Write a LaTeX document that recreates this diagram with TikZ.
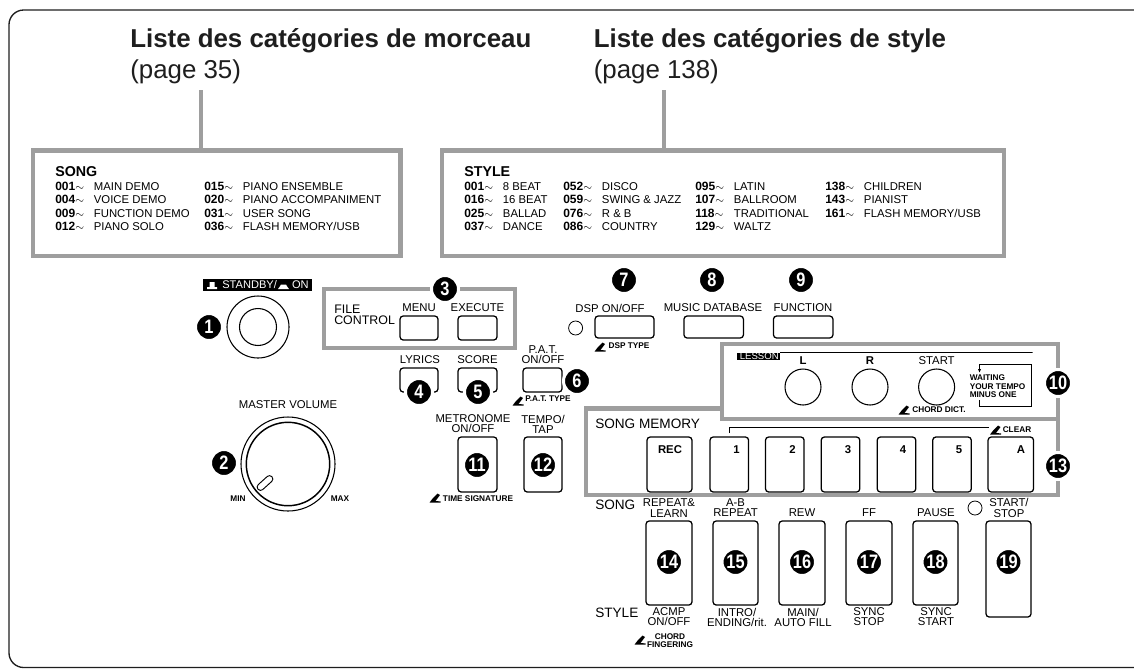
\documentclass[tikz,border=0pt]{standalone}
\usepackage{fontspec}
\setmainfont{Liberation Sans}
\newfontfamily\BadgeFace[FakeStretch=0.84]{Liberation Sans}
\usetikzlibrary{calc,arrows.meta}
\definecolor{frameGray}{RGB}{158,158,158}
\definecolor{inkBlack}{RGB}{30,30,30}
\newcommand{\TitleFont}{\fontsize{19.4}{22}\selectfont}
\newcommand{\KeyFont}{\fontsize{8.5}{7.6}\selectfont\lineskiplimit=-10pt\relax}
\newcommand{\TinyFont}{\fontsize{6.2}{6.2}\selectfont\bfseries\lineskiplimit=-10pt\relax}
\newcommand{\WaitFont}{\fontsize{6.2}{6.4}\selectfont\bfseries\lineskiplimit=-10pt\relax}
\newcommand{\FileFont}{\fontsize{9.3}{8.25}\selectfont\lineskiplimit=-10pt\relax}
\newcommand{\PanelFont}{\fontsize{10.2}{11}\selectfont}
\newcommand{\DigitFont}{\fontsize{8.5}{8.5}\selectfont\bfseries}
\newcommand{\ListRow}[2]{\makebox[29pt][l]{\fontsize{9}{10}\selectfont\bfseries #1{\fontsize{8}{8}\selectfont$\sim$}}#2}
\tikzset{
grayframe/.style 2 args={draw=frameGray,line width=3.15pt,fill=white,minimum width=#1*.75pt,minimum height=#2*.75pt,inner sep=0pt},
graylink/.style={draw=frameGray,line width=2.6pt},
keybtn/.style 2 args={draw=black,line width=.95pt,rounded corners=2.4pt,fill=white,minimum width=#1*.75pt,minimum height=#2*.75pt,inner sep=0pt},
roundkey/.style={circle,draw=black,line width=.8pt,fill=white,minimum size=#1*1.5pt,inner sep=0pt},
keytext/.style={inner sep=0pt,align=center,font=\KeyFont},
tinytext/.style={inner sep=0pt,align=center,font=\TinyFont},
paneltext/.style={inner sep=0pt,font=\PanelFont,anchor=west},
listcol/.style={inner sep=0pt,align=left,anchor=north west,font=\fontsize{8.5}{10.1}\selectfont},
listhead/.style={inner sep=0pt,anchor=west,font=\fontsize{10.7}{11}\selectfont\bfseries},
numbadge/.style={circle,fill=black,draw=white,line width=2.25pt,minimum size=20.25pt,inner sep=0pt,text=white,font=\BadgeFace\fontsize{14.6}{14.6}\selectfont\bfseries},
ledring/.style={circle,draw=black,line width=.6pt,minimum size=10.5pt,inner sep=0pt},
blacktag/.style={fill=black,text=white,inner sep=0pt,anchor=west},
rulemark/.style={draw=black,line width=.6pt},
penmark/.pic={\fill[black] (-5.5,4.6) -- (-2,0) -- (2.5,-4.5) -- (5,-3) -- (.5,3) -- (5.5,3.4) -- (5.5,4.6) -- cycle;}
}
\begin{document}
\begin{tikzpicture}[x=.75pt,y=-.75pt]
\useasboundingbox (0,0) rectangle (1134,669);
\draw[draw=inkBlack,line width=1pt,rounded corners=11pt] (1140,10) -- (9,10) -- (9,667.5) -- (1140,667.5);

\node[inner sep=0pt,anchor=base west,font=\TitleFont\bfseries,text=inkBlack] (songtitle) at (130,47.7) {Liste des catégories de morceau};
\node[inner sep=0pt,anchor=base west,font=\TitleFont,text=inkBlack] (songpage) at (130,78) {(page 35)};
\node[inner sep=0pt,anchor=base west,font=\TitleFont\bfseries,text=inkBlack] (styletitle) at (593.5,47.7) {Liste des catégories de style};
\node[inner sep=0pt,anchor=base west,font=\TitleFont,text=inkBlack] (stylepage) at (593.5,78) {(page 138)};

\node[grayframe={367.5}{105.5}] (songbox) at (216.7,203.2) {};
\node[grayframe={562}{105.5}] (stylebox) at (723,203.2) {};
\coordinate (songstem) at (201,90);
\coordinate (stylestem) at (664,90);
\draw[graylink] (songstem) -- (songstem |- songbox.north);
\draw[graylink] (stylestem) -- (stylestem |- stylebox.north);

\node[listhead] (songhead) at (55,171.7) {SONG};
\node[listcol] (songcola) at (55,181.5) {\ListRow{001}{MAIN DEMO}\\\ListRow{004}{VOICE DEMO}\\\ListRow{009}{FUNCTION DEMO}\\\ListRow{012}{PIANO SOLO}};
\node[listcol] (songcolb) at (204,181.5) {\ListRow{015}{PIANO ENSEMBLE}\\\ListRow{020}{PIANO ACCOMPANIMENT}\\\ListRow{031}{USER SONG}\\\ListRow{036}{FLASH MEMORY/USB}};
\node[listhead] (stylehead) at (464,171.7) {STYLE};
\node[listcol] (stylecola) at (464,181.5) {\ListRow{001}{8 BEAT}\\\ListRow{016}{16 BEAT}\\\ListRow{025}{BALLAD}\\\ListRow{037}{DANCE}};
\node[listcol] (stylecolb) at (563,181.5) {\ListRow{052}{DISCO}\\\ListRow{059}{SWING \& JAZZ}\\\ListRow{076}{R \& B}\\\ListRow{086}{COUNTRY}};
\node[listcol] (stylecolc) at (695,181.5) {\ListRow{095}{LATIN}\\\ListRow{107}{BALLROOM}\\\ListRow{118}{TRADITIONAL}\\\ListRow{129}{WALTZ}};
\node[listcol] (stylecold) at (825,181.5) {\ListRow{138}{CHILDREN}\\\ListRow{143}{PIANIST}\\\ListRow{161}{FLASH MEMORY/USB}};

\node[blacktag,minimum width=81.75pt,minimum height=9pt,font=\fontsize{8.3}{9}\selectfont] (standbytag) at (203,285) {\hspace{11.6pt}STANDBY/\hspace{11.4pt}ON};
\fill[white] (209.5,282) rectangle (214.5,287) (207,287) rectangle (217,289);
\fill[white] (278,289) -- (279.5,287) -- (281,284.5) -- (286,284.5) -- (287.5,287) -- (289,289) -- cycle;
\node[roundkey=31] (standbyring) at (258,327) {};
\node[roundkey=18.5] (standbykey) at (258,327) {};
\node[numbadge] (badgeone) at (209,327) {1};

\node[inner sep=0pt,font=\KeyFont] (volumelabel) at (288,405) {MASTER VOLUME};
\node[roundkey=47] (volumering) at (288,464) {};
\node[roundkey=41.7,line width=1.1pt] (volumeknob) at (288,464) {};
\node[draw=black,line width=.7pt,rounded corners=2.4pt,minimum width=14pt,minimum height=5pt,inner sep=0pt,rotate=42] (volumemark) at (265,483) {};
\node[numbadge] (badgetwo) at (224,463) {2};
\node[tinytext] (minlabel) at (238,499) {MIN};
\node[tinytext] (maxlabel) at (340,499) {MAX};

\node[grayframe={191.5}{59}] (filebox) at (419.5,318.7) {};
\node[inner sep=0pt,anchor=west,align=left,font=\FileFont] (filelabel) at (334,314.5) {FILE\\CONTROL};
\node[keytext] (menulabel) at (419,308) {MENU};
\node[keybtn={38}{24}] (menukey) at (419,328) {};
\node[keytext] (executelabel) at (477.5,308) {EXECUTE};
\node[keybtn={39}{24}] (executekey) at (477.5,328) {};
\node[numbadge] (badgethree) at (445,289) {3};

\node[keytext] (lyricslabel) at (420,360) {LYRICS};
\node[keybtn={38}{24}] (lyricskey) at (419,380) {};
\node[numbadge] (badgefour) at (419,392) {4};
\node[keytext] (scorelabel) at (477.5,360) {SCORE};
\node[keybtn={39}{24}] (scorekey) at (477.5,380) {};
\node[numbadge] (badgefive) at (478,392) {5};
\node[keytext] (patlabel) at (543,355) {P.A.T.\\ON/OFF};
\node[keybtn={39}{24}] (patkey) at (542.5,380) {};
\node[numbadge] (badgesix) at (577,381) {6};
\pic at (518,401) {penmark};
\node[tinytext] (pattype) at (548,399) {P.A.T. TYPE};

\node[keytext] (metrolabel) at (473,424) {METRONOME\\ON/OFF};
\node[keybtn={39}{55}] (metrokey) at (477.5,464.5) {};
\node[numbadge] (badgeeleven) at (477,465) {11};
\pic at (435,498) {penmark};
\node[tinytext] (timesig) at (478,499) {TIME SIGNATURE};
\node[keytext] (tempolabel) at (543,424) {TEMPO/\\TAP};
\node[keybtn={38}{55}] (tempokey) at (543,464.5) {};
\node[numbadge] (badgetwelve) at (543,465) {12};

\node[numbadge] (badgeseven) at (624,280) {7};
\node[numbadge] (badgeeight) at (712,280) {8};
\node[numbadge] (badgenine) at (801,280) {9};
\node[keytext] (dsplabel) at (610,308) {DSP ON/OFF};
\node[ledring] (dspled) at (575.6,328) {};
\node[keybtn={59}{22}] (dspkey) at (624.5,327) {};
\pic at (600,347) {penmark};
\node[tinytext] (dsptype) at (629,346) {DSP TYPE};
\node[keytext] (musiclabel) at (713,308) {MUSIC DATABASE};
\node[keybtn={59.5}{22}] (musickey) at (713.7,327) {};
\node[keytext] (functionlabel) at (803,308) {FUNCTION};
\node[keybtn={59.5}{22}] (functionkey) at (803.2,327) {};

\node[grayframe={472}{86.5}] (memorybox) at (822,451.8) {};
\node[grayframe={336}{75.5}] (lessonbox) at (890,381.5) {};
\node[blacktag,minimum width=32pt,minimum height=5.5pt,font=\fontsize{7.2}{7.2}\selectfont] (lessontag) at (737,356.5) {\hspace{1pt}LESSON};
\draw[rulemark] (lessontag.north east) -- (1032.5,352.5);
\node[inner sep=0pt,font=\KeyFont\bfseries] (lkeylabel) at (803,361) {L};
\node[roundkey=18] (lkey) at (803,387) {};
\node[inner sep=0pt,font=\KeyFont\bfseries] (rkeylabel) at (870,361) {R};
\node[roundkey=18] (rkey) at (870,387) {};
\node[keytext] (startlabel) at (936.6,361) {START};
\node[roundkey=18] (lessonstart) at (936.6,387) {};
\pic at (904,410) {penmark};
\node[tinytext] (chorddict) at (939,410) {CHORD DICT.};
\draw[rulemark,-{Latex[length=3pt,width=2.4pt]}] (979.5,400) -- (979.5,406) -- (1031.5,406) -- (1031.5,364) -- (979.5,364) -- (979.5,373);
\node[tinytext,align=left,anchor=west,font=\WaitFont] (waitlabel) at (969.5,386.5) {WAITING\\YOUR TEMPO\\MINUS ONE};
\node[numbadge] (badgeten) at (1058,383) {10};

\node[paneltext] (memorylabel) at (595,424) {SONG MEMORY};
\draw[rulemark] (729,433) -- (729,427) -- (989,427);
\pic at (995.5,430) {penmark};
\node[tinytext] (clearlabel) at (1017,430) {CLEAR};
\node[keybtn={45}{55}] (reckey) at (669.5,464.5) {};
\node[keybtn={38.6}{55}] (keyone) at (729.3,464.5) {};
\node[keybtn={38.6}{55}] (keytwo) at (784.8,464.5) {};
\node[keybtn={38.6}{55}] (keythree) at (840.5,464.5) {};
\node[keybtn={38.6}{55}] (keyfour) at (896.5,464.5) {};
\node[keybtn={38.6}{55}] (keyfive) at (952,464.5) {};
\node[keybtn={45.5}{55}] (keya) at (1010.8,464.5) {};
\node[inner sep=0pt,font=\DigitFont] (reclabel) at (670,450) {REC};
\node[inner sep=0pt,font=\DigitFont] (onelabel) at (736.5,450) {1};
\node[inner sep=0pt,font=\DigitFont] (twolabel) at (792.6,450) {2};
\node[inner sep=0pt,font=\DigitFont] (threelabel) at (848,450) {3};
\node[inner sep=0pt,font=\DigitFont] (fourlabel) at (903,450) {4};
\node[inner sep=0pt,font=\DigitFont] (fivelabel) at (959,450) {5};
\node[inner sep=0pt,font=\DigitFont] (alabel) at (1021,450) {A};
\node[numbadge] (badgethirteen) at (1058,466) {13};

\node[paneltext] (songlabel) at (595,504.5) {SONG};
\node[paneltext] (stylelabel) at (595,613) {STYLE};
\node[keytext] (repeatlabel) at (669,508) {REPEAT\&\\LEARN};
\node[keytext] (ablabel) at (735.5,508) {A-B\\REPEAT};
\node[keytext] (rewlabel) at (802,513) {REW};
\node[keytext] (fflabel) at (869,513) {FF};
\node[keytext] (pauselabel) at (936,513) {PAUSE};
\node[ledring] (startled) at (975,508) {};
\node[keytext] (startstoplabel) at (1009,508) {START/\\STOP};
\node[keybtn={46}{84}] (learnkey) at (669,563) {};
\node[keybtn={45}{84}] (repeatkey) at (735.5,563) {};
\node[keybtn={46}{84}] (rewkey) at (802,563) {};
\node[keybtn={46}{84}] (ffkey) at (869,563) {};
\node[keybtn={45}{84}] (pausekey) at (935.5,563) {};
\node[keybtn={45}{96}] (startstopkey) at (1008.5,569) {};
\node[numbadge] (badgefourteen) at (669,562) {14};
\node[numbadge] (badgefifteen) at (735.5,562) {15};
\node[numbadge] (badgesixteen) at (802,562) {16};
\node[numbadge] (badgeseventeen) at (869,562) {17};
\node[numbadge] (badgeeighteen) at (935.5,562) {18};
\node[numbadge] (badgenineteen) at (1008.5,562) {19};
\node[keytext] (acmplabel) at (669,617) {ACMP\\ON/OFF};
\node[keytext] (introlabel) at (737,617) {INTRO/\\ENDING/rit.};
\node[keytext] (mainlabel) at (803,617) {MAIN/\\AUTO FILL};
\node[keytext] (synclabel) at (869,617) {SYNC\\STOP};
\node[keytext] (syncstartlabel) at (936,617) {SYNC\\START};
\pic at (640,640) {penmark};
\node[tinytext,font=\WaitFont] (fingerlabel) at (670,640.5) {CHORD\\FINGERING};
\end{tikzpicture}
\end{document}
